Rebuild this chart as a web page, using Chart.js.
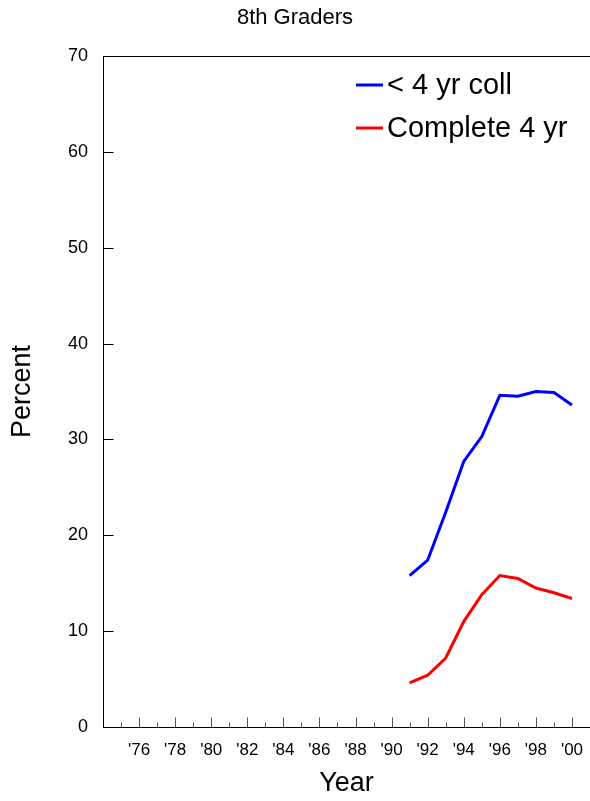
<!DOCTYPE html>
<html>
<head>
<meta charset="utf-8">
<script src="https://cdn.jsdelivr.net/npm/chart.js@4/dist/chart.umd.min.js"></script>
<style>
  html, body { margin: 0; padding: 0; background: #fff; }
  #wrap { width: 590px; height: 801px; }
</style>
</head>
<body>
<div id="wrap"><canvas id="c" width="590" height="801"></canvas></div>
<script>
const chartTitle = '8th Graders';
const xTitle = 'Year';
const yTitle = 'Percent';
const years = [1991, 1992, 1993, 1994, 1995, 1996, 1997, 1998, 1999, 2000];
const lessThan4yrColl = [15.8, 17.4, 22.4, 27.7, 30.3, 34.6, 34.5, 35.0, 34.9, 33.6];
const complete4yr = [4.6, 5.4, 7.2, 11.0, 13.8, 15.8, 15.5, 14.5, 14.0, 13.4];
const seriesLabels = ['< 4 yr coll', 'Complete 4 yr'];
const seriesColors = ['#0000ff', '#ff0000'];
const xMin = 1974, xMax = 2001;
const yMin = 0, yMax = 70, yStep = 10;

const FONT = "'Liberation Sans', Arial, Helvetica, sans-serif";

function toPoints(vals) { return years.map((y, i) => ({ x: y, y: vals[i] })); }

const innerTicks = {
  id: 'innerTicks',
  afterDraw(chart) {
    const { ctx, chartArea, scales } = chart;
    ctx.save();
    ctx.strokeStyle = '#000';
    ctx.lineWidth = 1;
    // top border
    ctx.beginPath();
    ctx.moveTo(chartArea.left, Math.round(chartArea.top) + 0.5);
    ctx.lineTo(chartArea.right, Math.round(chartArea.top) + 0.5);
    ctx.stroke();
    // x ticks
    const bottom = Math.round(chartArea.bottom) + 0.5;
    for (let yr = xMin + 1; yr < xMax; yr++) {
      const px = Math.round(scales.x.getPixelForValue(yr)) + 0.5;
      const len = (yr % 2 === 0) ? 10 : 5;
      ctx.strokeStyle = '#555';
      ctx.beginPath();
      ctx.moveTo(px, bottom);
      ctx.lineTo(px, bottom - len);
      ctx.stroke();
    }
    // y ticks
    ctx.strokeStyle = '#000';
    const left = Math.round(chartArea.left) + 0.5;
    for (let v = yMin + yStep; v < yMax; v += yStep) {
      const py = Math.round(scales.y.getPixelForValue(v)) + 0.5;
      ctx.beginPath();
      ctx.moveTo(left, py);
      ctx.lineTo(left + 10, py);
      ctx.stroke();
    }
    ctx.restore();
  }
};

const customLegend = {
  id: 'customLegend',
  afterDraw(chart) {
    const { ctx } = chart;
    ctx.save();
    ctx.font = '29px ' + FONT;
    ctx.textBaseline = 'middle';
    ctx.textAlign = 'left';
    const rowsY = [85, 128];
    chart.data.datasets.forEach((ds, i) => {
      const y = rowsY[i];
      ctx.strokeStyle = ds.borderColor;
      ctx.lineWidth = 3;
      ctx.beginPath();
      ctx.moveTo(356, y);
      ctx.lineTo(383, y);
      ctx.stroke();
      ctx.fillStyle = '#000';
      ctx.fillText(ds.label, 387, y + 1);
    });
    ctx.restore();
  }
};

new Chart(document.getElementById('c'), {
  type: 'line',
  data: {
    datasets: [
      { label: seriesLabels[0], data: toPoints(lessThan4yrColl), borderColor: seriesColors[0], backgroundColor: seriesColors[0], borderWidth: 3, pointRadius: 0, tension: 0, fill: false },
      { label: seriesLabels[1], data: toPoints(complete4yr), borderColor: seriesColors[1], backgroundColor: seriesColors[1], borderWidth: 3, pointRadius: 0, tension: 0, fill: false }
    ]
  },
  plugins: [innerTicks, customLegend],
  options: {
    responsive: false,
    animation: false,
    layout: { padding: 0 },
    plugins: {
      legend: { display: false },
      tooltip: { enabled: false },
      title: {
        display: true,
        text: chartTitle,
        color: '#000',
        font: { family: FONT, size: 22, weight: 'normal' },
        padding: { top: 5, bottom: 24.6 }
      }
    },
    scales: {
      x: {
        type: 'linear',
        min: xMin,
        max: xMax,
        afterFit(scale) { scale.height = 74; scale.paddingRight = 0; scale.paddingLeft = 0; },
        grid: { display: false, drawTicks: false },
        border: { display: true, color: '#000', width: 1 },
        ticks: {
          stepSize: 1,
          autoSkip: false,
          maxRotation: 0,
          padding: 13,
          color: '#000',
          font: { family: FONT, size: 17 },
          callback(v) {
            if (v % 2 === 0 && v >= 1976 && v <= 2000) return "'" + String(v).slice(2);
            return '';
          }
        },
        title: { display: true, text: xTitle, color: '#000', font: { family: FONT, size: 27 }, padding: { top: 0, bottom: 1 } }
      },
      y: {
        min: yMin,
        max: yMax,
        afterFit(scale) { scale.width = 103; scale.paddingTop = 0; scale.paddingBottom = 0; },
        grid: { display: false, drawTicks: false },
        border: { display: true, color: '#000', width: 1 },
        ticks: {
          stepSize: yStep,
          padding: 15,
          color: '#000',
          font: { family: FONT, size: 18 }
        },
        title: { display: true, text: yTitle, color: '#000', font: { family: FONT, size: 27 }, padding: { top: 6, bottom: 0 } }
      }
    }
  }
});
</script>
</body>
</html>
